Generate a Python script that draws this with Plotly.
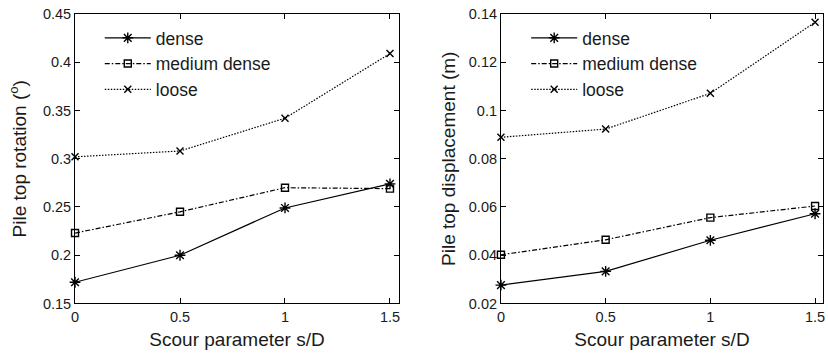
import plotly.graph_objects as go

# ---- data ----
scour = [0, 0.5, 1, 1.5]
series_names = ["dense", "medium dense", "loose"]

rotation_dense = [0.172, 0.200, 0.249, 0.274]
rotation_medium = [0.223, 0.245, 0.270, 0.269]
rotation_loose = [0.302, 0.308, 0.342, 0.409]

disp_dense = [0.0276, 0.0333, 0.0462, 0.0572]
disp_medium = [0.0402, 0.0464, 0.0556, 0.0604]
disp_loose = [0.0889, 0.0923, 0.1071, 0.1366]

x_ticks = [0, 0.5, 1, 1.5]
rot_ticks = [0.15, 0.2, 0.25, 0.3, 0.35, 0.4, 0.45]
disp_ticks = [0.02, 0.04, 0.06, 0.08, 0.1, 0.12, 0.14]

# ---- styles ----
FONT = "Liberation Sans, Arial, Helvetica, sans-serif"
TXT = "#1a1a1a"
styles = [
    dict(dash="solid", symbol="asterisk-open", size=9),
    dict(dash="5px,2px,1.5px,2px", symbol="square-open", size=7),
    dict(dash="1.5px,1.5px", symbol="x-thin-open", size=7),
]

fig = go.Figure()

left_data = [rotation_dense, rotation_medium, rotation_loose]
right_data = [disp_dense, disp_medium, disp_loose]

for (xa, ya, lg, data) in [("x", "y", "legend", left_data),
                           ("x2", "y2", "legend2", right_data)]:
    for i, (name, ys) in enumerate(zip(series_names, data)):
        st = styles[i]
        fig.add_trace(go.Scatter(
            x=scour, y=ys, name=name, mode="lines+markers",
            line=dict(color="black", width=1.2, dash=st["dash"]),
            marker=dict(symbol=st["symbol"], size=st["size"], color="black",
                        line=dict(color="black", width=1.4)),
            xaxis=xa, yaxis=ya, legend=lg, cliponaxis=False,
        ))

ydom = [0.1475, 0.9607]
axis_common = dict(
    showline=True, linecolor="black", linewidth=1, mirror="ticks",
    ticks="inside", ticklen=5, tickcolor="black", tickwidth=1,
    showgrid=False, zeroline=False, automargin=False,
    tickfont=dict(family=FONT, size=14.5, color=TXT),
)
title_font = dict(family=FONT, size=19, color=TXT)
legend_common = dict(xanchor="left", yanchor="top", bgcolor="rgba(0,0,0,0)",
                     borderwidth=0, itemwidth=46, tracegroupgap=0,
                     font=dict(family=FONT, size=17.5, color=TXT))

fig.update_layout(
    width=828, height=356,
    template="none",
    paper_bgcolor="white", plot_bgcolor="white",
    margin=dict(l=0, r=0, t=0, b=0),
    font=dict(family=FONT, color=TXT),
    xaxis=dict(domain=[0.0906, 0.4819], range=[0, 1.543], tickvals=x_ticks,
               anchor="y",
               title=dict(text="Scour parameter s/D", standoff=8, font=title_font),
               **axis_common),
    yaxis=dict(domain=ydom, range=[0.15, 0.45], tickvals=rot_ticks, anchor="x",
               title=dict(text="Pile top rotation (<sup>o</sup>)", standoff=11,
                          font=title_font),
               **axis_common),
    xaxis2=dict(domain=[0.605, 0.994], range=[0, 1.538], tickvals=x_ticks,
                anchor="y2",
                title=dict(text="Scour parameter s/D", standoff=8, font=title_font),
                **axis_common),
    yaxis2=dict(domain=ydom, range=[0.02, 0.14], tickvals=disp_ticks, anchor="x2",
                title=dict(text="Pile top displacement (m)", standoff=8,
                           font=title_font),
                **axis_common),
    legend=dict(x=0.1205, y=0.944, **legend_common),
    legend2=dict(x=0.6355, y=0.944, **legend_common),
)

fig.write_html("out.html",
               config={"displayModeBar": False},
               post_script="document.body.style.margin='0';"
                           "document.body.style.padding='0';")
